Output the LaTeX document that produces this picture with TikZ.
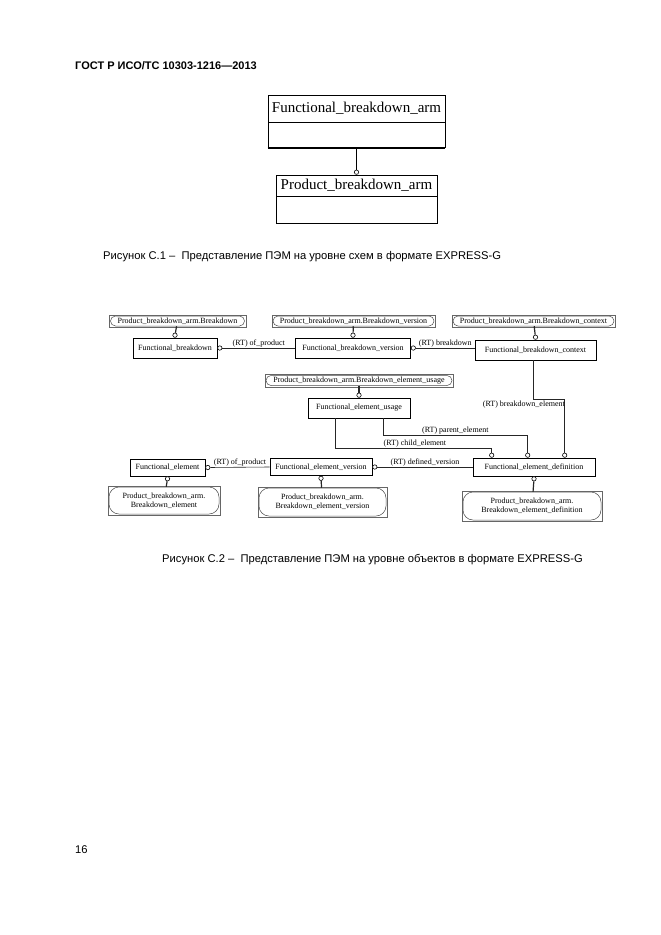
\documentclass[tikz,border=0pt]{standalone}
\usepackage{fontspec}
\setmainfont{Liberation Serif}
\newfontfamily\capfont{Liberation Sans}
\usetikzlibrary{positioning,calc}

\begin{document}
\begin{tikzpicture}[
  x=1pt, y=-1pt,
  font=\fontsize{8}{9}\selectfont,
  entity/.style={draw, line width=0.6pt, inner sep=0pt, align=center},
  armbox/.style={draw, line width=0.6pt, inner sep=0pt, font=\fontsize{15}{16}\selectfont},
  typeref/.style={draw=black!70, rounded corners=5pt, inner sep=0pt, align=center, line width=0.5pt},
  ring/.style={circle, draw, fill=white, inner sep=0pt, minimum size=4.4pt, line width=0.6pt},
  rel/.style={draw=black!85, line width=0.6pt},
  reftype/.style={line width=1.2pt},
  rtlabel/.style={inner sep=1pt, font=\fontsize{8}{9}\selectfont},
  caption/.style={anchor=west, inner sep=0pt, font=\capfont\fontsize{11.2}{13}\selectfont}
]
\useasboundingbox (0,0) rectangle (661,935);

% page header
\node[caption, font=\capfont\bfseries\fontsize{11}{13}\selectfont] (head) at (75,66) {ГОСТ Р ИСО/ТС 10303-1216—2013};

% figure C.1
\node[armbox, minimum width=177, minimum height=27] (fbarm) at (356.5,108.5) {Functional\_breakdown\_arm};
\node[armbox, minimum width=177, minimum height=25, below=0pt of fbarm] (fbarmb) {};
\draw[line width=1.4pt] (fbarmb.south west) -- (fbarmb.south east);
\node[armbox, minimum width=161, minimum height=21] (pbarm) at (356.5,185.5) {Product\_breakdown\_arm};
\node[armbox, minimum width=161, minimum height=27, below=0pt of pbarm] (pbarmb) {};
\node[ring, anchor=south] (c0) at (pbarm.north) {};
\draw[line width=0.8pt] (fbarmb.south) -- (c0);

\node[caption] (cap1) at (103,257) {Рисунок С.1 –\ \ Представление ПЭМ на уровне схем в формате EXPRESS-G};

% figure C.2, type boxes
\node[typeref, minimum width=134, minimum height=10] (tb) at (177.5,321) {Product\_breakdown\_arm.Breakdown};
\node[typeref, minimum width=161, minimum height=10] (tv) at (353.5,321) {Product\_breakdown\_arm.Breakdown\_version};
\node[typeref, minimum width=161, minimum height=10] (tc) at (533.5,321) {Product\_breakdown\_arm.Breakdown\_context};
\node[typeref, minimum width=186, minimum height=10] (tu) at (359,380.5) {Product\_breakdown\_arm.Breakdown\_element\_usage};
\node[typeref, rounded corners=10pt, minimum width=110, minimum height=27] (te) at (164,500.5) {Product\_breakdown\_arm.\\Breakdown\_element};
\node[typeref, rounded corners=10pt, minimum width=127, minimum height=28] (tev) at (322.5,502) {Product\_breakdown\_arm.\\Breakdown\_element\_version};
\node[typeref, rounded corners=10pt, minimum width=138, minimum height=28] (ted) at (532,506) {Product\_breakdown\_arm.\\Breakdown\_element\_definition};
\foreach \n in {tb,tv,tc,tu,te,tev,ted}
  \draw[black!60, line width=0.4pt] ([shift={(-1pt,1pt)}]\n.north west) rectangle ([shift={(1pt,-1pt)}]\n.south east);

% entities
\node[entity, minimum width=84, minimum height=20] (fb) at (175,348) {Functional\_breakdown};
\node[entity, minimum width=115, minimum height=20] (fbv) at (353,348) {Functional\_breakdown\_version};
\node[entity, minimum width=121, minimum height=20] (fbc) at (535.5,350) {Functional\_breakdown\_context};
\node[entity, minimum width=102, minimum height=20] (feu) at (359,408) {Functional\_element\_usage};
\node[entity, minimum width=75, minimum height=17] (fe) at (167.5,467.5) {Functional\_element};
\node[entity, minimum width=102, minimum height=17] (fev) at (321,467) {Functional\_element\_version};
\node[entity, minimum width=122, minimum height=18] (fed) at (534,467) {Functional\_element\_definition};

% rings
\node[ring, anchor=south] (cb) at (fb.north) {};
\node[ring, anchor=south] (cv) at (fbv.north) {};
\node[ring, anchor=south] (cc) at (fbc.north) {};
\node[ring, anchor=south] (cu) at (feu.north) {};
\node[ring, anchor=north] (ce) at (fe.south) {};
\node[ring, anchor=north] (cev) at (fev.south) {};
\node[ring, anchor=north] (ced) at (fed.south) {};
\node[ring, anchor=west] (rfb) at (fb.east |- 0,348) {};
\node[ring, anchor=west] (rfbv) at (fbv.east) {};
\node[ring, anchor=west] (rfe) at (fe.east) {};
\node[ring, anchor=west] (rfev) at (fev.east) {};
\node[ring, anchor=south] (rchild) at ($(fed.north west)+(19,0)$) {};
\node[ring, anchor=south] (rparent) at ($(fed.north west)+(55,0)$) {};
\node[ring, anchor=south] (relem) at ($(fed.north west)+(92,0)$) {};

% type references
\draw[rel, reftype] (tb) -- (cb);
\draw[rel, reftype] (tv) -- (cv);
\draw[rel, reftype] (tc) -- (cc);
\draw[rel, reftype] (tu) -- (cu);
\draw[rel, reftype] (ce) -- (te);
\draw[rel, reftype] (cev) -- (tev);
\draw[rel, reftype] (ced) -- (ted);

% relations
\draw[rel] (fbv.west |- rfb) -- node[rtlabel, above] {(RT) of\_product} (rfb);
\draw[rel] (fbc.west |- rfbv) -- node[rtlabel, above] {(RT) breakdown} (rfbv);
\draw[rel] (fev.west) -- node[rtlabel, above] {(RT) of\_product} (rfe);
\draw[rel] (fed.west) -- node[rtlabel, above] {(RT) defined\_version} (rfev);
\draw[rel] (fbc.south -| 533,0) |- (relem |- 0,399) -- (relem);
\node[rtlabel, anchor=north east] (lelem) at (566,400) {(RT) breakdown\_element};
\draw[rel] (feu.south -| 383,0) |- node[rtlabel, above, pos=0.75] {(RT) parent\_element} (rparent |- 0,435) -- (rparent);
\draw[rel] (feu.south -| 335,0) |- node[rtlabel, above, pos=0.755] {(RT) child\_element} (rchild |- 0,448) -- (rchild);

\node[caption] (cap2) at (162,560) {Рисунок С.2 –\ \ Представление ПЭМ на уровне объектов в формате EXPRESS-G};

% page number
\node[caption] (pnum) at (75,850) {16};
\end{tikzpicture}
\end{document}
